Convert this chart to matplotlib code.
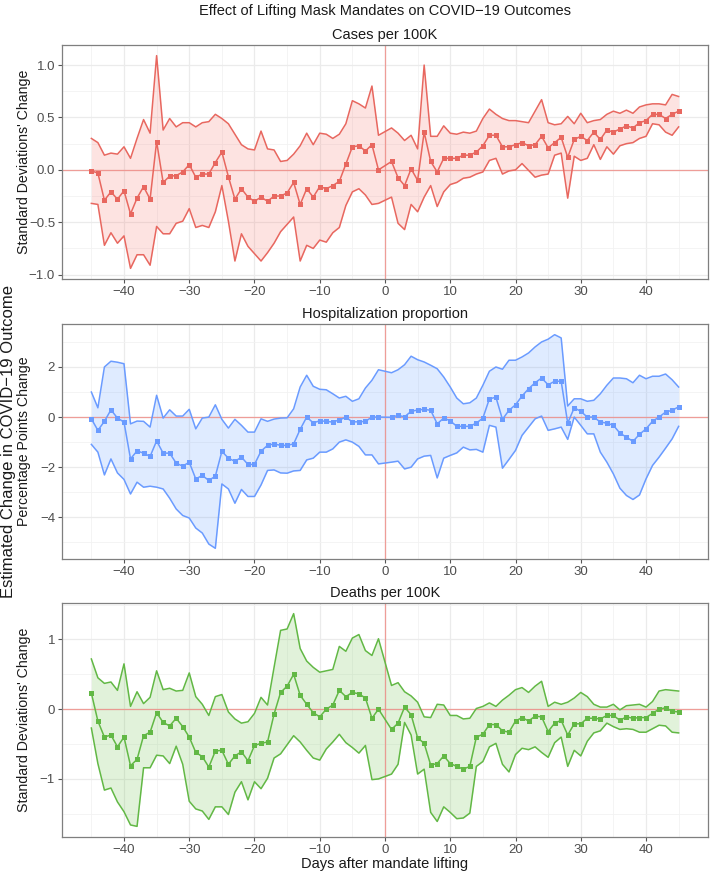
import numpy as np
import matplotlib
matplotlib.use("Agg")
import matplotlib.pyplot as plt
from matplotlib.ticker import MultipleLocator

plt.rcParams['font.family'] = ['Liberation Sans', 'DejaVu Sans']

# days (day 0 is omitted in the estimates)
days = list(range(-45, 0)) + list(range(1, 46))

cases_est = [-0.01, -0.03, -0.29, -0.21, -0.28, -0.20, -0.42, -0.27, -0.16, -0.28,
             0.27, -0.12, -0.06, -0.055, -0.02, 0.05, -0.07, -0.04, -0.04, 0.07,
             0.17, -0.065, -0.28, -0.18, -0.26, -0.30, -0.26, -0.30, -0.25, -0.25,
             -0.22, -0.12, -0.33, -0.18, -0.26, -0.16, -0.18, -0.15, -0.11, 0.055,
             0.22, 0.23, 0.18, 0.24, 0.0,
             0.08, -0.075, -0.15, 0.01, -0.10, 0.36, 0.08, -0.02, 0.11, 0.11,
             0.11, 0.14, 0.14, 0.17, 0.23, 0.33, 0.33, 0.22, 0.22, 0.24,
             0.26, 0.23, 0.24, 0.32, 0.21, 0.26, 0.31, 0.12, 0.29, 0.32,
             0.28, 0.36, 0.29, 0.38, 0.36, 0.39, 0.42, 0.40, 0.45, 0.47,
             0.53, 0.53, 0.49, 0.53, 0.56]
cases_hi = [0.30, 0.26, 0.14, 0.16, 0.15, 0.22, 0.11, 0.30, 0.48, 0.35,
            1.09, 0.38, 0.49, 0.41, 0.45, 0.45, 0.41, 0.45, 0.46, 0.53,
            0.49, 0.44, 0.34, 0.24, 0.20, 0.19, 0.37, 0.20, 0.19, 0.08,
            0.09, 0.15, 0.23, 0.35, 0.24, 0.35, 0.34, 0.30, 0.34, 0.44,
            0.66, 0.63, 0.59, 0.80, 0.33,
            0.40, 0.35, 0.28, 0.33, 0.20, 1.00, 0.32, 0.32, 0.42, 0.35,
            0.34, 0.36, 0.35, 0.37, 0.49, 0.58, 0.53, 0.49, 0.47, 0.47,
            0.46, 0.45, 0.56, 0.67, 0.45, 0.43, 0.44, 0.51, 0.44, 0.54,
            0.45, 0.47, 0.48, 0.53, 0.56, 0.54, 0.57, 0.54, 0.60, 0.62,
            0.63, 0.63, 0.62, 0.72, 0.70]
cases_lo = [-0.32, -0.33, -0.72, -0.60, -0.70, -0.63, -0.94, -0.81, -0.81, -0.91,
            -0.54, -0.61, -0.61, -0.51, -0.49, -0.37, -0.55, -0.53, -0.55, -0.40,
            -0.15, -0.49, -0.87, -0.61, -0.73, -0.80, -0.87, -0.79, -0.70, -0.59,
            -0.52, -0.45, -0.87, -0.72, -0.75, -0.67, -0.69, -0.60, -0.55, -0.34,
            -0.21, -0.18, -0.24, -0.33, -0.32,
            -0.26, -0.51, -0.57, -0.33, -0.40, -0.26, -0.15, -0.35, -0.21, -0.14,
            -0.12, -0.08, -0.07, -0.04, -0.02, 0.09, 0.11, -0.04, -0.01, 0.0,
            0.06, -0.005, -0.07, -0.05, -0.04, 0.14, 0.16, -0.27, 0.13, 0.09,
            0.11, 0.24, 0.10, 0.22, 0.15, 0.23, 0.25, 0.26, 0.30, 0.32,
            0.44, 0.43, 0.36, 0.33, 0.41]

hosp_est = [-0.07, -0.53, -0.17, 0.29, -0.04, -0.20, -1.67, -1.35, -1.44, -1.57,
            -0.95, -1.44, -1.44, -1.84, -1.96, -1.80, -2.47, -2.33, -2.53, -2.36,
            -1.37, -1.64, -1.77, -1.60, -1.89, -1.89, -1.36, -1.13, -1.07, -1.13,
            -1.13, -1.07, -0.49, 0.0, -0.23, -0.15, -0.17, -0.20, -0.11, -0.01,
            -0.19, -0.19, -0.17, 0.0, 0.0,
            -0.01, 0.07, 0.01, 0.23, 0.28, 0.31, 0.27, -0.27, -0.04, -0.15,
            -0.37, -0.37, -0.37, -0.24, -0.04, 0.73, 0.79, -0.09, 0.27, 0.49,
            0.84, 1.13, 1.37, 1.56, 1.29, 1.43, 1.43, -0.24, 0.37, 0.23,
            0.0, 0.0, -0.20, -0.24, -0.33, -0.64, -0.80, -0.97, -0.69, -0.47,
            -0.17, 0.0, 0.20, 0.27, 0.41]
hosp_hi = [1.00, 0.37, 2.00, 2.23, 2.19, 2.13, -0.27, -0.16, -0.17, -0.40,
           0.87, -0.04, 0.29, 0.04, 0.04, 0.31, -0.47, -0.04, 0.0, 0.49,
           -0.09, -0.44, -0.09, -0.33, -0.60, -0.60, -0.07, -0.17, -0.08, -0.04,
           -0.03, 0.33, 1.20, 1.67, 1.23, 1.11, 1.09, 0.93, 0.76, 0.83,
           0.63, 0.73, 1.16, 1.47, 1.89,
           1.77, 1.89, 2.09, 2.43, 2.29, 2.20, 2.07, 1.93, 1.60, 1.20,
           0.76, 0.53, 0.57, 0.76, 1.27, 1.83, 2.00, 1.91, 2.27, 2.27,
           2.40, 2.56, 2.80, 3.00, 3.11, 3.29, 3.16, 0.44, 0.73, 0.73,
           0.63, 0.67, 0.93, 1.27, 1.56, 1.56, 1.53, 1.37, 1.67, 1.53,
           1.63, 1.63, 1.72, 1.49, 1.20]
hosp_lo = [-1.09, -1.40, -2.31, -1.67, -2.23, -2.49, -3.07, -2.60, -2.80, -2.76,
           -2.80, -2.87, -3.24, -3.67, -3.93, -4.03, -4.43, -4.63, -5.07, -5.24,
           -2.67, -2.87, -3.44, -2.89, -3.17, -3.17, -2.71, -2.13, -2.11, -2.23,
           -2.24, -2.15, -2.13, -1.71, -1.64, -1.40, -1.40, -1.27, -1.00, -0.91,
           -1.00, -1.17, -1.51, -1.51, -1.87,
           -1.80, -1.76, -2.07, -2.00, -1.67, -1.56, -1.53, -2.43, -1.64, -1.53,
           -1.43, -1.20, -1.31, -1.29, -1.40, -0.33, -0.40, -2.04, -1.69, -1.33,
           -0.73, -0.40, -0.07, 0.04, -0.53, -0.47, -0.40, -0.89, 0.0, -0.33,
           -0.67, -0.67, -1.40, -1.80, -2.27, -2.84, -3.13, -3.29, -3.11, -2.47,
           -1.93, -1.60, -1.24, -0.87, -0.37]

deaths_est = [0.23, -0.17, -0.40, -0.37, -0.54, -0.40, -0.81, -0.72, -0.38, -0.33,
              -0.05, -0.19, -0.24, -0.13, -0.25, -0.40, -0.62, -0.68, -0.83, -0.60,
              -0.59, -0.79, -0.67, -0.61, -0.74, -0.52, -0.49, -0.47, -0.07, 0.24,
              0.33, 0.50, 0.20, 0.07, -0.05, -0.11, 0.0, 0.06, 0.27, 0.18,
              0.24, 0.22, 0.16, -0.13, 0.0,
              -0.29, -0.20, 0.03, -0.08, -0.41, -0.49, -0.80, -0.78, -0.67, -0.78,
              -0.82, -0.86, -0.82, -0.40, -0.36, -0.22, -0.22, -0.31, -0.33, -0.17,
              -0.12, -0.17, -0.10, -0.11, -0.32, -0.20, -0.16, -0.37, -0.21, -0.21,
              -0.13, -0.13, -0.14, -0.09, -0.09, -0.16, -0.11, -0.13, -0.12, -0.12,
              -0.06, 0.0, 0.02, -0.03, -0.04]
deaths_hi = [0.72, 0.45, 0.37, 0.39, 0.27, 0.65, 0.04, 0.25, 0.08, 0.17,
             0.55, 0.28, 0.30, 0.26, 0.27, 0.52, 0.18, 0.07, -0.09, 0.18,
             0.21, -0.04, -0.14, -0.20, -0.18, -0.06, 0.17, 0.06, 0.60, 1.13,
             1.15, 1.37, 0.87, 0.69, 0.60, 0.53, 0.55, 0.57, 0.90, 0.83,
             1.02, 1.07, 0.84, 0.77, 1.01,
             0.34, 0.38, 0.25, 0.19, 0.10, -0.11, -0.12, 0.07, 0.06, -0.09,
             -0.09, -0.14, -0.13, 0.01, 0.04, 0.09, 0.04, 0.13, 0.20, 0.28,
             0.31, 0.24, 0.33, 0.40, 0.04, 0.10, 0.07, 0.10, 0.16, 0.24,
             0.18, 0.07, 0.03, 0.03, 0.07, -0.01, 0.05, 0.06, 0.07, 0.03,
             0.11, 0.26, 0.28, 0.27, 0.26]
deaths_lo = [-0.27, -0.78, -1.16, -1.13, -1.33, -1.47, -1.66, -1.68, -0.84, -0.84,
             -0.66, -0.67, -0.78, -0.53, -0.79, -1.32, -1.43, -1.46, -1.58, -1.40,
             -1.40, -1.51, -1.19, -1.04, -1.30, -1.04, -1.14, -0.99, -0.70, -0.64,
             -0.51, -0.38, -0.47, -0.59, -0.70, -0.73, -0.57, -0.47, -0.36, -0.48,
             -0.55, -0.63, -0.52, -1.01, -1.00,
             -0.93, -0.79, -0.19, -0.37, -0.93, -0.86, -1.48, -1.61, -1.40, -1.48,
             -1.57, -1.56, -1.49, -0.82, -0.75, -0.54, -0.49, -0.79, -0.90, -0.65,
             -0.56, -0.58, -0.54, -0.62, -0.69, -0.48, -0.40, -0.82, -0.59, -0.67,
             -0.46, -0.34, -0.31, -0.20, -0.25, -0.29, -0.28, -0.29, -0.33, -0.33,
             -0.28, -0.23, -0.24, -0.33, -0.34]

panel_titles = ["Cases per 100K", "Hospitalization proportion", "Deaths per 100K"]
panel_ylabels = ["Standard Deviations' Change", "Percentage Points Change",
                 "Standard Deviations' Change"]
colors = ["#E8675F", "#6A9BFF", "#62B845"]
fills = ["#F8766D", "#619CFF", "#6CC24A"]

series = [(cases_est, cases_lo, cases_hi),
          (hosp_est, hosp_lo, hosp_hi),
          (deaths_est, deaths_lo, deaths_hi)]

W, H = 710, 874
fig = plt.figure(figsize=(W / 100, H / 100), dpi=100)

# (top, bottom) in pixel coordinates for each panel
boxes = [(45, 279), (324, 559), (603, 837)]
left, right = 62, 708
ymajor = [0.5, 2, 1]
yminor = [0.25, 1, 0.5]

x = np.array(days)
for i, ((est, lo, hi), (top, bot)) in enumerate(zip(series, boxes)):
    ax = fig.add_axes([left / W, 1 - bot / H, (right - left) / W, (bot - top) / H])
    ax.fill_between(x, lo, hi, color=fills[i], alpha=0.2, linewidth=0, zorder=2)
    ax.plot(x, hi, color=colors[i], lw=1.1, zorder=3)
    ax.plot(x, lo, color=colors[i], lw=1.1, zorder=3)
    ax.plot(x, est, color=colors[i], lw=1.1, marker='s', markersize=3.6,
            markeredgewidth=0, zorder=4)
    ax.axhline(0, color="#F08A84", lw=0.9, alpha=0.8, zorder=2.5)
    ax.axvline(0, color="#F08A84", lw=0.9, alpha=0.8, zorder=2.5)
    ax.margins(x=0.05, y=0.05)
    ax.xaxis.set_major_locator(MultipleLocator(10))
    ax.xaxis.set_minor_locator(MultipleLocator(5))
    ax.yaxis.set_major_locator(MultipleLocator(ymajor[i]))
    ax.yaxis.set_minor_locator(MultipleLocator(yminor[i]))
    ax.grid(True, which='major', color='#EBEBEB', lw=0.9, zorder=0)
    ax.grid(True, which='minor', color='#F2F2F2', lw=0.6, zorder=0)
    ax.set_axisbelow(True)
    for s in ax.spines.values():
        s.set_color('#7F7F7F')
        s.set_linewidth(0.9)
    ax.tick_params(which='major', length=3, color='#555555', labelsize=9.5,
                   labelcolor='#4D4D4D', pad=2)
    ax.tick_params(which='minor', length=0)
    ax.xaxis.set_major_formatter(matplotlib.ticker.FuncFormatter(
        lambda v, p: f"{int(v)}".replace('-', '\u2212')))
    if i == 0:
        ax.yaxis.set_major_formatter(matplotlib.ticker.FuncFormatter(
            lambda v, p: f"{v:.1f}".replace('-', '\u2212')))
    else:
        ax.yaxis.set_major_formatter(matplotlib.ticker.FuncFormatter(
            lambda v, p: f"{int(round(v))}".replace('-', '\u2212')))
    ax.set_title(panel_titles[i], fontsize=10.5, color='#1A1A1A', pad=4)
    ax.set_ylabel(panel_ylabels[i], fontsize=10.2, color='#1A1A1A')
    ax.yaxis.set_label_coords((31 - left) / (right - left), 0.5)
    if i == 2:
        ax.set_xlabel("Days after mandate lifting", fontsize=10.5, color='#1A1A1A',
                      labelpad=1)

fig.text(385 / W, 1 - 11 / H, "Effect of Lifting Mask Mandates on COVID\u221219 Outcomes",
         ha='center', va='center', fontsize=10.5, color='#1A1A1A')
fig.text(9 / W, 1 - 442 / H, "Estimated Change in COVID\u221219 Outcome",
         ha='center', va='center', rotation=90, fontsize=12, color='#1A1A1A')

fig.savefig("out.png", dpi=100, facecolor='white')
